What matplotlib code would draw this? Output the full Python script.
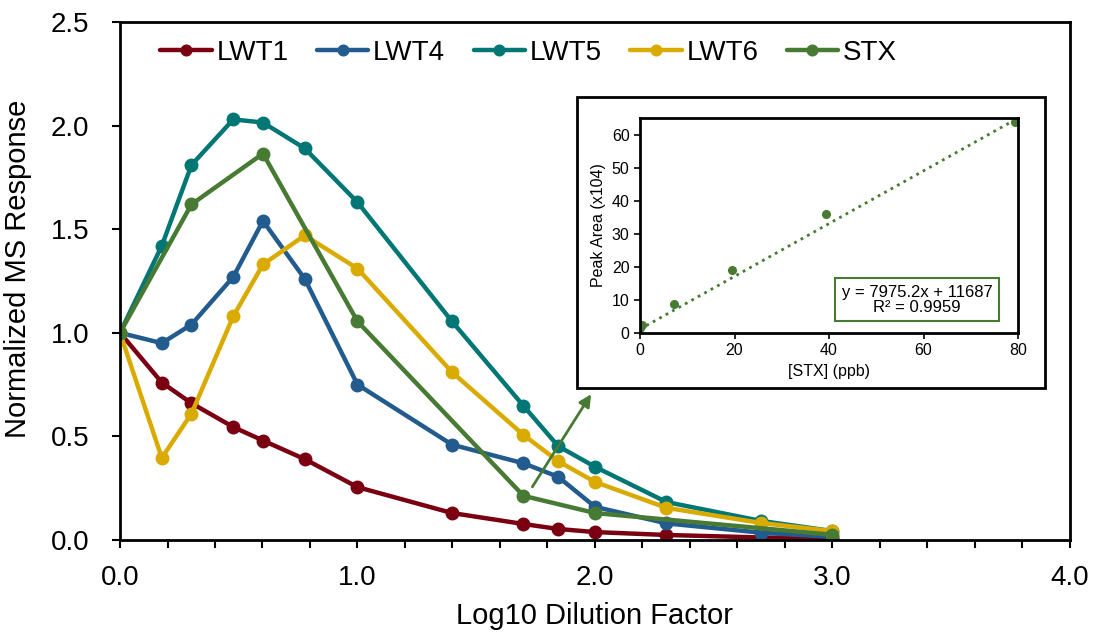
import matplotlib.pyplot as plt
import numpy as np

plt.rcParams['font.family'] = ['Liberation Sans', 'DejaVu Sans']

# Log10 of the dilution factors used for each sample
log_dil = [0.0, 0.176, 0.301, 0.477, 0.602, 0.778, 1.0, 1.398, 1.699, 1.845,
           2.0, 2.301, 2.699, 3.0]

lwt1 = [1.0, 0.76, 0.66, 0.545, 0.48, 0.39, 0.255, 0.13, 0.077, 0.053,
        0.038, 0.024, 0.012, 0.005]
lwt4 = [1.0, 0.95, 1.04, 1.27, 1.54, 1.26, 0.75, 0.46, 0.37, 0.305,
        0.16, 0.08, 0.035, 0.015]
lwt5 = [1.0, 1.42, 1.81, 2.03, 2.015, 1.89, 1.63, 1.055, 0.647, 0.453,
        0.353, 0.183, 0.092, 0.043]
lwt6 = [1.0, 0.396, 0.61, 1.08, 1.33, 1.47, 1.31, 0.81, 0.507, 0.38,
        0.28, 0.155, 0.082, 0.043]

stx_dil = [0.0, 0.301, 0.602, 1.0, 1.699, 2.0, 3.0]
stx = [1.0, 1.62, 1.865, 1.055, 0.213, 0.13, 0.025]

series = [
    ("LWT1", log_dil, lwt1, "#7a0011"),
    ("LWT4", log_dil, lwt4, "#225b8e"),
    ("LWT5", log_dil, lwt5, "#007775"),
    ("LWT6", log_dil, lwt6, "#d9ab00"),
    ("STX", stx_dil, stx, "#477a32"),
]

# STX calibration standards (peak area in units of 10^4)
cal_conc = [0.0, 0.4, 7.2, 19.4, 39.4, 79.4]
cal_area = [1.6, 2.3, 8.8, 19.1, 35.9, 63.9]
slope = 7975.2
intercept = 11687

fig = plt.figure(figsize=(10.94, 6.39), dpi=100)
ax = fig.add_axes([0.1097, 0.155, 0.8683, 0.8105])

for name, xs, ys, col in series:
    ax.plot(xs, ys, '-o', color=col, lw=3.2, ms=9, label=name,
            solid_joinstyle='round', solid_capstyle='round')

xt = np.arange(0, 4.01, 0.2)
ax.set_xlim(0, 4.0)
ax.set_ylim(0, 2.5)
ax.set_xticks(xt)
ax.set_xticklabels(["%.1f" % v if abs(v - round(v)) < 1e-6 else "" for v in xt])
ax.set_yticks(np.arange(0, 2.51, 0.5))
ax.set_yticklabels(["%.1f" % v for v in np.arange(0, 2.51, 0.5)])
ax.tick_params(direction='out', length=6, width=1.5, labelsize=20)
ax.tick_params(axis='x', pad=12)
ax.tick_params(axis='y', pad=16)
for sp in ax.spines.values():
    sp.set_linewidth(2)
ax.set_xlabel("Log10 Dilution Factor", fontsize=21, labelpad=8)
ax.set_ylabel("Normalized MS Response", fontsize=21, labelpad=10)
ax.yaxis.set_label_coords(-0.093, 0.523)

ax.legend(loc='center left', bbox_to_anchor=(0.028, 0.94), ncol=5,
          frameon=False, fontsize=20, handlelength=1.85, handletextpad=0.17,
          columnspacing=1.02, markerscale=0.85, borderpad=0)

# Arrow pointing from the STX curve toward the calibration inset
ax.annotate("", xy=(1.99, 0.715), xytext=(1.73, 0.245),
            arrowprops=dict(arrowstyle='-|>', color="#477a32", lw=2,
                            mutation_scale=18))

# Inset frame
W, H = 1094.0, 639.0
frame = plt.Rectangle((577 / W, 1 - 388 / H), (1045 - 577) / W, (388 - 97) / H,
                      transform=fig.transFigure, fill=True, facecolor='white',
                      edgecolor='black', lw=2, zorder=5)
fig.patches.append(frame)

ins = fig.add_axes([640 / W, 1 - 333 / H, (1018 - 640) / W, (333 - 118) / H])
ins.set_zorder(6)
ins.plot(cal_conc, cal_area, 'o', color="#477a32", ms=5.5)
fx = np.array([0, 80])
ins.plot(fx, (slope * fx + intercept) / 1e4, ':', color="#477a32", lw=2)
ins.set_xlim(0, 80)
ins.set_ylim(0, 65)
ins.set_xticks([0, 20, 40, 60, 80])
ins.set_yticks([0, 10, 20, 30, 40, 50, 60])
ins.tick_params(direction='out', length=4, width=1.2, labelsize=11.5)
for sp in ins.spines.values():
    sp.set_linewidth(2)
ins.set_xlabel("[STX] (ppb)", fontsize=11.5)
ins.set_ylabel("Peak Area (x104)", fontsize=11.5)
ins.text(0.733, 0.155, "y = 7975.2x + 11687\nR\u00b2 = 0.9959", transform=ins.transAxes,
         ha='center', va='center', fontsize=12, linespacing=1.0,
         bbox=dict(boxstyle='square,pad=0.4', facecolor='white',
                   edgecolor="#477a32", lw=1.5))

fig.savefig("out.png", dpi=100)
